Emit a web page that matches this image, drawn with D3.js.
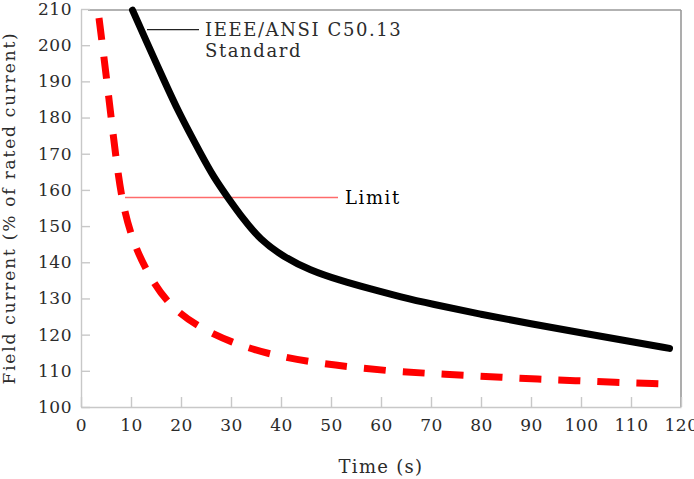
<!DOCTYPE html>
<html>
<head>
<meta charset="utf-8">
<script src="https://cdn.jsdelivr.net/npm/d3@7"></script>
<style>
    body { margin: 0; background: #fff; }
    text { font-family: "DejaVu Serif", serif; }
</style>
</head>
<body>
<div id="chart"></div>
<script>
// IEEE/ANSI C50.13 standard curve (time in s, field current in %)
let standardTime  = [10.3, 13, 16.5, 19.5, 24.1, 26.5, 29.5, 32.5, 35.8, 40.5, 45.8, 51.8, 58, 64, 70, 80, 90, 100, 110, 117.7];
let standardValue = [209.7, 201.3, 190.6, 181.5, 169.6, 163.6, 157.6, 151.9, 146.3, 141.5, 137.8, 135.0, 132.6, 130.4, 128.5, 125.6, 123.0, 120.5, 118.1, 116.2];

// limit curve (dashed red)
let limitTime  = [3.6, 4.7, 5.6, 6.5, 7.4, 8.5, 10.5, 13.5, 17.5, 23.3, 30.1, 37.5, 45.5, 53.5, 61.5, 69.1, 76.5, 84.1, 91.3, 98.9, 106.5, 115.8];
let limitValue = [207.5, 195.5, 185, 174.5, 164.5, 155, 145.2, 136.5, 128.2, 122.2, 117.8, 114.6, 112.5, 111.1, 110, 109.3, 108.8, 108.2, 107.7, 107.3, 106.8, 106.4];

let xTicks = [0, 10, 20, 30, 40, 50, 60, 70, 80, 90, 100, 110, 120];
let yTicks = [100, 110, 120, 130, 140, 150, 160, 170, 180, 190, 200, 210];

// annotation anchors
let limitLevel = 157.9;
let limitFrom = 8.8, limitTo = 51.4;
let standardNote = {t: 13.2, v: 204.3, tEnd: 23.6};

class LineChart {
    constructor(_parentElement) {
        this.parentElement = _parentElement;
        this.initVis();
    }

    initVis() {
        let vis = this;

        vis.margin = {top: 9, right: 13, bottom: 72, left: 81};
        vis.width = 694 - vis.margin.left - vis.margin.right;
        vis.height = 479 - vis.margin.top - vis.margin.bottom;

        vis.svg = d3.select("#" + vis.parentElement).append("svg")
            .attr("width", 694)
            .attr("height", 479)
            .append("g")
            .attr("transform", `translate(${vis.margin.left}, ${vis.margin.top})`);

        vis.x = d3.scaleLinear().domain([0, 120]).range([0, vis.width]);
        vis.y = d3.scaleLinear().domain([100, 210]).range([vis.height, 0]);

        // frame: top and right are darker
        vis.svg.append("line")
            .attr("x1", 7).attr("x2", vis.width)
            .attr("y1", 1).attr("y2", 1)
            .attr("stroke", "#999").attr("stroke-width", 1.6);
        vis.svg.append("line")
            .attr("x1", vis.width).attr("x2", vis.width)
            .attr("y1", 1).attr("y2", vis.height)
            .attr("stroke", "#999").attr("stroke-width", 1.6);

        // axes with inward ticks
        vis.xAxis = d3.axisBottom(vis.x).tickValues(xTicks).tickSizeInner(-10).tickSizeOuter(0).tickPadding(12);
        vis.yAxis = d3.axisLeft(vis.y).tickValues(yTicks).tickSizeInner(-9).tickSizeOuter(0).tickPadding(9);

        vis.xAxisGroup = vis.svg.append("g")
            .attr("transform", `translate(0, ${vis.height})`)
            .call(vis.xAxis);
        vis.yAxisGroup = vis.svg.append("g")
            .call(vis.yAxis);

        vis.svg.selectAll(".domain, .tick line").attr("stroke", "#c8c8c8").attr("stroke-width", 1.4);
        vis.svg.selectAll(".tick text")
            .attr("font-family", "DejaVu Serif")
            .attr("font-size", 17)
            .attr("letter-spacing", 0.5)
            .attr("fill", "#2b2b2b");
        vis.xAxisGroup.selectAll(".tick text").attr("dy", "0.71em");

        // axis titles
        vis.svg.append("text")
            .attr("x", vis.x(60))
            .attr("y", vis.height + 66)
            .attr("text-anchor", "middle")
            .attr("font-size", 18)
            .attr("fill", "#2b2b2b")
            .attr("letter-spacing", 1.3)
            .text("Time (s)");

        vis.svg.append("text")
            .attr("transform", `translate(${-66}, ${vis.height / 2}) rotate(-90)`)
            .attr("text-anchor", "middle")
            .attr("font-size", 17)
            .attr("fill", "#2b2b2b")
            .attr("letter-spacing", 1.8)
            .text("Field current (% of rated current)");

        // basis curve smooths out small reading errors
        vis.line = d3.line()
            .x(d => vis.x(d[0]))
            .y(d => vis.y(d[1]))
            .curve(d3.curveBasis);

        vis.wrangleData();
    }

    wrangleData() {
        let vis = this;
        vis.standardData = standardTime.map((t, i) => [t, standardValue[i]]);
        vis.limitData = limitTime.map((t, i) => [t, limitValue[i]]);
        vis.updateVis();
    }

    updateVis() {
        let vis = this;

        // limit annotation line (under the curves)
        vis.svg.append("line")
            .attr("x1", vis.x(limitFrom)).attr("x2", vis.x(limitTo))
            .attr("y1", vis.y(limitLevel)).attr("y2", vis.y(limitLevel))
            .attr("stroke", "#ff6b6b").attr("stroke-width", 1.3);
        vis.svg.append("text")
            .attr("x", vis.x(limitTo) + 7)
            .attr("y", vis.y(limitLevel) + 6)
            .attr("font-size", 18)
            .attr("letter-spacing", 1.6)
            .attr("fill", "#000")
            .text("Limit");

        vis.svg.append("path")
            .datum(vis.limitData)
            .attr("fill", "none")
            .attr("stroke", "#ff0000")
            .attr("stroke-width", 7)
            .attr("stroke-dasharray", "22,17")
            .attr("d", vis.line);

        vis.svg.append("path")
            .datum(vis.standardData)
            .attr("fill", "none")
            .attr("stroke", "#000")
            .attr("stroke-width", 7)
            .attr("stroke-linecap", "round")
            .attr("d", vis.line);

        // standard annotation
        vis.svg.append("line")
            .attr("x1", vis.x(standardNote.t)).attr("x2", vis.x(standardNote.tEnd))
            .attr("y1", vis.y(standardNote.v)).attr("y2", vis.y(standardNote.v))
            .attr("stroke", "#222").attr("stroke-width", 1.4);
        let note = vis.svg.append("text")
            .attr("x", vis.x(standardNote.tEnd) + 6)
            .attr("y", vis.y(standardNote.v) + 6)
            .attr("font-size", 18)
            .attr("letter-spacing", 1.6)
            .attr("fill", "#2b2b2b");
        note.append("tspan").text("IEEE/ANSI C50.13");
        note.append("tspan")
            .attr("x", vis.x(standardNote.tEnd) + 6)
            .attr("dy", 21)
            .text("Standard");
    }
}

new LineChart("chart");
</script>
</body>
</html>
